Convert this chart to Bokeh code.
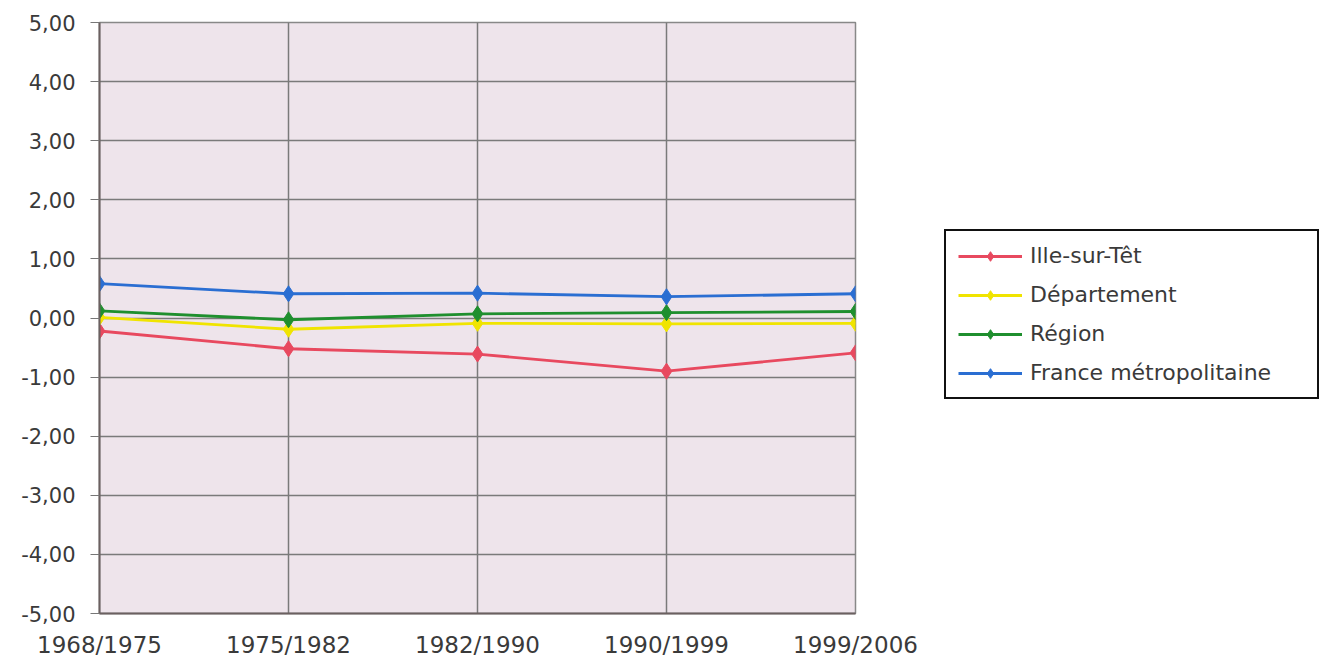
from bokeh.plotting import figure
from bokeh.models import FixedTicker, Legend, LegendItem, Range1d
from bokeh.embed import file_html
from bokeh.resources import INLINE

periods = ["1968/1975", "1975/1982", "1982/1990", "1990/1999", "1999/2006"]
ille = [-0.22, -0.52, -0.61, -0.90, -0.59]
departement = [0.01, -0.19, -0.09, -0.10, -0.09]
region = [0.12, -0.03, 0.07, 0.09, 0.11]
france = [0.58, 0.41, 0.42, 0.36, 0.41]
y_ticks = [-5, -4, -3, -2, -1, 0, 1, 2, 3, 4, 5]
y_labels = ["-5,00", "-4,00", "-3,00", "-2,00", "-1,00", "0,00", "1,00", "2,00", "3,00", "4,00", "5,00"]

series = [
    ("Ille-sur-Têt", ille, "#E8495F"),
    ("Département", departement, "#F0E400"),
    ("Région", region, "#1F8F2E"),
    ("France métropolitaine", france, "#2A6ED2"),
]

FONT = "DejaVu Sans"
TXT = "#3a3a3a"

p = figure(frame_width=756, frame_height=591, output_backend="svg", toolbar_location=None,
           x_range=Range1d(0, len(periods) - 1), y_range=Range1d(-5, 5),
           min_border_left=99, min_border_top=22, min_border_bottom=45, min_border_right=0)
p.background_fill_color = "#EEE4EB"
p.border_fill_color = "white"
p.outline_line_color = "#888888"
p.outline_line_width = 1.5

xs = list(range(len(periods)))
p.xaxis.ticker = FixedTicker(ticks=xs)
p.xaxis.major_label_overrides = {i: s for i, s in enumerate(periods)}
p.yaxis.ticker = FixedTicker(ticks=y_ticks)
p.yaxis.major_label_overrides = {t: s for t, s in zip(y_ticks, y_labels)}

for ax in (p.xaxis, p.yaxis):
    ax.axis_line_color = "#6b6060"
    ax.axis_line_width = 2
    ax.major_label_text_font = FONT
    ax.major_label_text_color = TXT
    ax.minor_tick_line_color = None
p.xaxis.major_tick_line_color = None
p.xaxis.major_label_text_font_size = "23px"
p.xaxis.major_label_standoff = 12
p.yaxis.major_label_text_font_size = "21px"
p.yaxis.major_tick_in = 0
p.yaxis.major_tick_out = 9
p.yaxis.major_tick_line_color = "#777777"
p.yaxis.major_label_standoff = 15

p.xgrid.grid_line_color = "#7a7a7a"
p.xgrid.grid_line_width = 1.5
p.ygrid.grid_line_color = "#7a7a7a"
p.ygrid.grid_line_width = 1.5

items = []
for name, vals, col in series:
    l = p.line(xs, vals, line_color=col, line_width=2.8)
    m = p.scatter(xs, vals, marker="diamond", size=16, fill_color=col, line_color=col)
    items.append(LegendItem(label=name, renderers=[l, m]))

legend = Legend(items=items, location=(89, 214), orientation="vertical")
legend.border_line_color = "#111111"
legend.border_line_alpha = 1
legend.border_line_width = 2
legend.background_fill_color = "white"
legend.background_fill_alpha = 1
legend.label_text_font = FONT
legend.label_text_font_size = "22px"
legend.label_text_color = TXT
legend.glyph_width = 64
legend.glyph_height = 24
legend.spacing = 14
legend.padding = 12
legend.margin = 0
legend.label_standoff = 8
legend.label_height = 24
legend.label_width = 275
p.add_layout(legend, "right")

open("out.html", "w").write(file_html(p, INLINE))
